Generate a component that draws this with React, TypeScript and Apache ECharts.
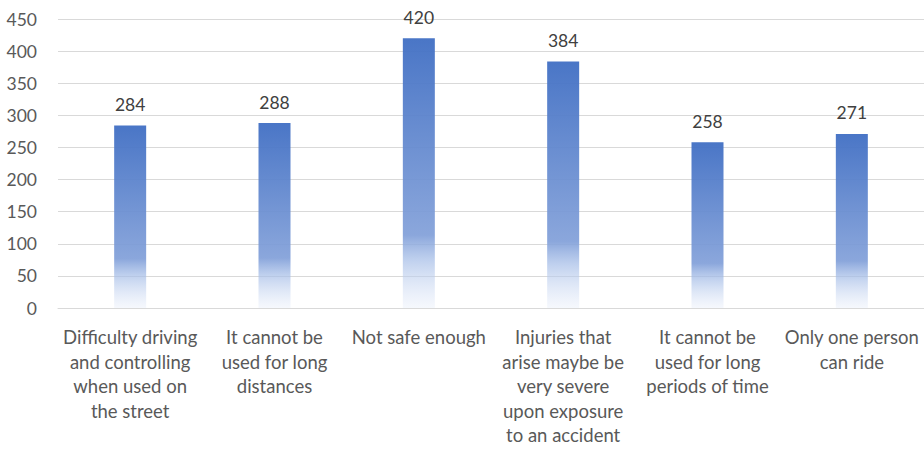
import React, { useEffect, useRef } from "react";
import * as echarts from "echarts";

const categories: string[] = [
  "Difficulty driving\nand controlling\nwhen used on\nthe street",
  "It cannot be\nused for long\ndistances",
  "Not safe enough",
  "Injuries that\narise maybe be\nvery severe\nupon exposure\nto an accident",
  "It cannot be\nused for long\nperiods of time",
  "Only one person\ncan ride",
];

const responses: number[] = [284, 288, 420, 384, 258, 271];

const yMin = 0;
const yMax = 450;
const yStep = 50;

const FONT = "Lato, 'Noto Sans', sans-serif";

export default function App() {
  const ref = useRef<HTMLDivElement>(null);

  useEffect(() => {
    if (!ref.current) return;
    const chart = echarts.init(ref.current, undefined, { renderer: "svg" });

    const barFill = new echarts.graphic.LinearGradient(0, 0, 0, 1, [
      { offset: 0, color: "rgba(66,112,196,0.96)" },
      { offset: 0.73, color: "rgba(130,160,217,0.93)" },
      { offset: 0.82, color: "rgba(165,189,231,0.72)" },
      { offset: 1, color: "rgba(228,235,249,0.35)" },
    ]);

    chart.setOption({
      animation: false,
      textStyle: { fontFamily: FONT },
      grid: { left: 58, top: 19, width: 870, height: 289, containLabel: false },
      xAxis: {
        type: "category",
        data: categories,
        axisTick: { show: false },
        axisLine: { lineStyle: { color: "#D9D9D9", width: 1 } },
        axisLabel: {
          interval: 0,
          color: "#595959",
          fontSize: 18.5,
          lineHeight: 24.5,
          margin: 17,
          fontFamily: FONT,
        },
      },
      yAxis: {
        type: "value",
        min: yMin,
        max: yMax,
        interval: yStep,
        axisLine: { show: false },
        axisTick: { show: false },
        splitLine: { lineStyle: { color: "#D9D9D9", width: 1 } },
        axisLabel: {
          color: "#595959",
          fontSize: 17.5,
          margin: 21,
          fontFamily: FONT,
        },
      },
      series: [
        {
          type: "bar",
          data: responses,
          barWidth: 32,
          itemStyle: { color: barFill },
          label: {
            show: true,
            position: "top",
            distance: 12,
            color: "#404040",
            fontSize: 17.5,
            fontFamily: FONT,
          },
        },
      ],
    });

    return () => chart.dispose();
  }, []);

  return (
    <div
      ref={ref}
      style={{ position: "fixed", left: 0, top: 0, width: 924, height: 450, background: "#ffffff" }}
    />
  );
}
